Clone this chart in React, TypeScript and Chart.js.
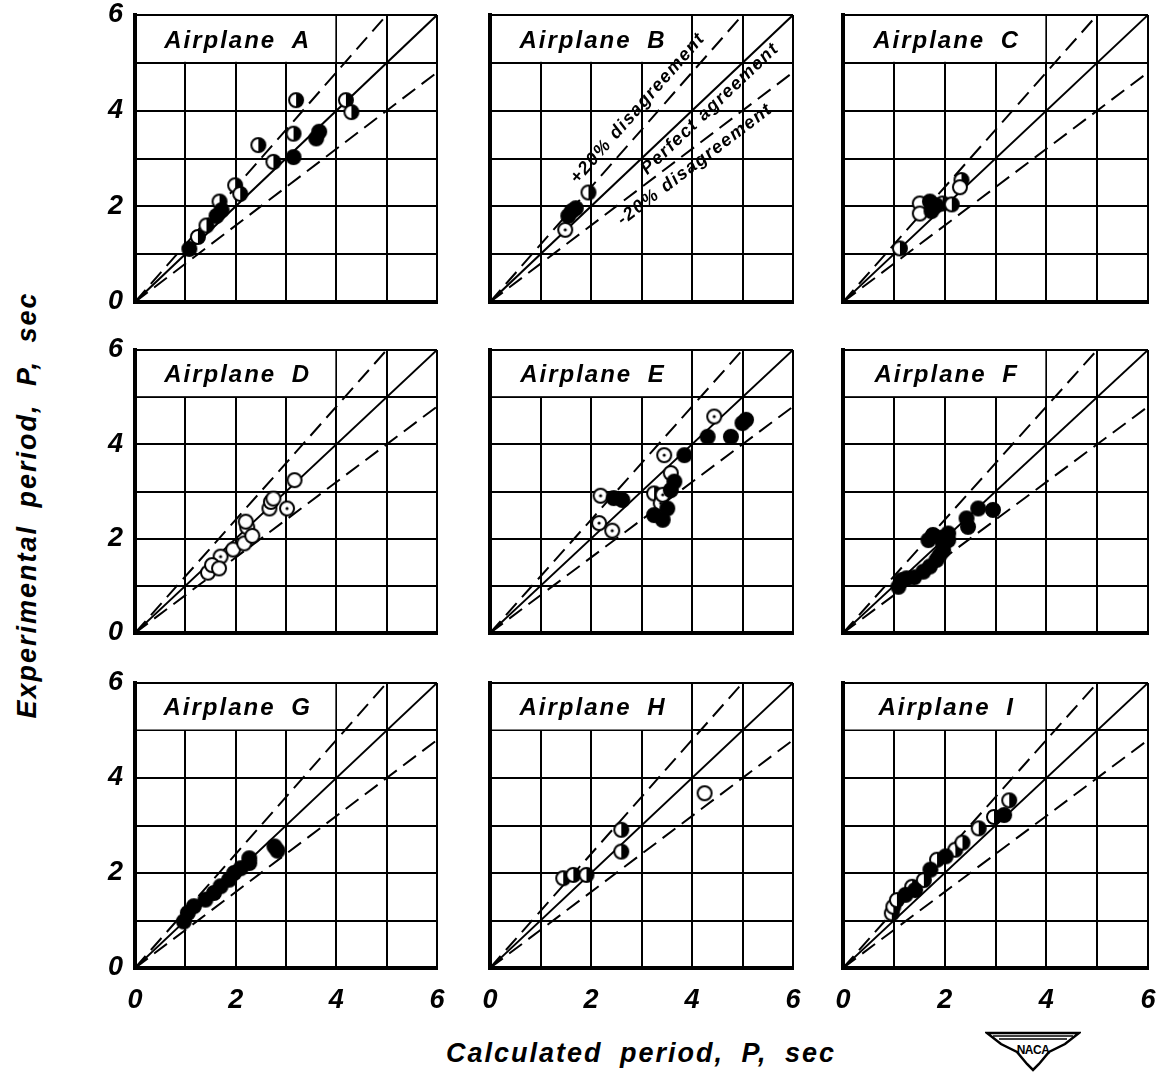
import React, { useEffect, useRef } from 'react';
import { Chart, registerables } from 'chart.js';

Chart.register(...registerables);

// ---------------- data ----------------
const panelNames = ['A', 'B', 'C', 'D', 'E', 'F', 'G', 'H', 'I'];
const tickValues = [0, 1, 2, 3, 4, 5, 6];
const tickLabels = ['0', '', '2', '', '4', '', '6'];

// reference lines (calculated, experimental)
const perfectLine = [[0, 0], [6, 6]];
const plus20Line = [[0, 0], [5, 6]];
const minus20Line = [[0, 0], [6, 4.8]];

// points: [calculated, experimental, symbol]  O open, D open with dot, R right half filled, L left half filled, F filled
const airplaneA = [
  [1.08, 1.11, 'F'], [1.25, 1.36, 'R'], [1.42, 1.6, 'R'], [1.62, 1.8, 'F'], [1.72, 1.92, 'F'],
  [1.68, 2.1, 'R'], [1.99, 2.44, 'R'], [2.09, 2.26, 'R'], [2.45, 3.28, 'R'], [2.75, 2.93, 'R'],
  [3.15, 3.03, 'F'], [3.15, 3.52, 'R'], [3.2, 4.22, 'R'], [3.6, 3.42, 'F'], [3.66, 3.56, 'F'],
  [4.19, 4.22, 'R'], [4.3, 3.97, 'R'],
];
const airplaneB = [
  [1.49, 1.51, 'D'], [1.55, 1.8, 'F'], [1.62, 1.9, 'F'], [1.7, 1.96, 'F'], [1.95, 2.29, 'R'],
];
const airplaneC = [
  [1.12, 1.12, 'R'], [1.51, 2.06, 'O'], [1.51, 1.85, 'O'], [1.71, 2.1, 'F'], [1.74, 1.9, 'F'],
  [1.84, 2.02, 'F'], [1.96, 2.06, 'R'], [2.14, 2.04, 'R'], [2.33, 2.55, 'R'], [2.3, 2.4, 'O'],
];
const airplaneD = [
  [1.45, 1.28, 'O'], [1.53, 1.44, 'O'], [1.67, 1.37, 'O'], [1.7, 1.62, 'D'], [1.95, 1.77, 'O'],
  [2.17, 1.9, 'O'], [2.23, 2.24, 'D'], [2.2, 2.36, 'O'], [2.33, 2.06, 'O'], [2.67, 2.64, 'O'],
  [2.7, 2.78, 'O'], [2.75, 2.85, 'O'], [3.02, 2.64, 'D'], [3.17, 3.24, 'O'],
];
const airplaneE = [
  [2.19, 2.91, 'D'], [2.45, 2.86, 'F'], [2.62, 2.82, 'F'], [2.16, 2.33, 'D'], [2.42, 2.17, 'D'],
  [3.25, 2.5, 'F'], [3.42, 2.4, 'F'], [3.51, 2.64, 'F'], [3.38, 2.75, 'D'], [3.25, 2.96, 'R'],
  [3.42, 2.93, 'D'], [3.58, 3.03, 'F'], [3.65, 3.21, 'F'], [3.58, 3.39, 'O'], [3.45, 3.77, 'D'],
  [3.85, 3.77, 'F'], [4.31, 4.16, 'F'], [4.44, 4.59, 'D'], [4.77, 4.16, 'F'], [5.0, 4.45, 'F'],
  [5.07, 4.52, 'F'],
];
const airplaneF = [
  [1.09, 0.98, 'F'], [1.15, 1.12, 'F'], [1.25, 1.16, 'F'], [1.4, 1.18, 'F'], [1.58, 1.3, 'F'],
  [1.71, 1.41, 'F'], [1.84, 1.55, 'F'], [1.9, 1.65, 'F'], [1.97, 1.75, 'F'], [1.68, 1.97, 'F'],
  [1.77, 2.08, 'F'], [1.92, 2.02, 'F'], [2.07, 2.11, 'F'], [2.07, 1.97, 'F'], [1.97, 1.88, 'F'],
  [2.46, 2.25, 'F'], [2.43, 2.43, 'F'], [2.66, 2.64, 'F'], [2.95, 2.61, 'F'],
];
const airplaneG = [
  [0.97, 0.98, 'F'], [1.05, 1.16, 'F'], [1.17, 1.3, 'F'], [1.4, 1.44, 'F'], [1.57, 1.58, 'F'],
  [1.7, 1.72, 'F'], [1.87, 1.86, 'F'], [1.97, 2.0, 'F'], [2.1, 2.1, 'F'], [2.27, 2.21, 'F'],
  [2.27, 2.31, 'F'], [2.77, 2.56, 'F'], [2.83, 2.47, 'F'],
];
const airplaneH = [
  [1.45, 1.89, 'R'], [1.65, 1.96, 'R'], [1.91, 1.96, 'R'], [2.6, 2.91, 'R'], [2.6, 2.45, 'R'],
  [4.25, 3.68, 'O'],
];
const airplaneI = [
  [0.96, 1.15, 'R'], [0.99, 1.29, 'R'], [1.06, 1.43, 'R'], [1.23, 1.54, 'F'], [1.36, 1.71, 'R'],
  [1.42, 1.64, 'F'], [1.59, 1.85, 'R'], [1.72, 2.07, 'F'], [1.85, 2.28, 'R'], [2.02, 2.35, 'F'],
  [2.21, 2.49, 'R'], [2.35, 2.64, 'R'], [2.67, 2.94, 'R'], [2.97, 3.18, 'R'], [3.17, 3.22, 'F'],
  [3.27, 3.53, 'R'],
];
const panelData = [airplaneA, airplaneB, airplaneC, airplaneD, airplaneE, airplaneF, airplaneG, airplaneH, airplaneI];

const bAnnotations = [
  { text: '+20% disagreement', x: 2.93, y: 4.05, slope: 1.2 },
  { text: 'Perfect agreement', x: 4.36, y: 4.04, slope: 1.0 },
  { text: '-20% disagreement', x: 4.06, y: 2.875, slope: 0.8 },
];

// ---------------- layout ----------------
const colLeft = [135, 490, 843];
const colRight = [437, 793, 1148];
const rowTop = [15, 350, 683];
const rowBottom = [302, 633, 968];
const PAD_L = 60, PAD_T = 14, PAD_R = 14, PAD_B = 50;
const FONT = '"Liberation Sans", Arial, sans-serif';
const symbolCodes = ['O', 'D', 'R', 'L', 'F'];

function makeMarker(code: string): HTMLCanvasElement {
  const s = 18, c = 9, r = 7;
  const cv = document.createElement('canvas');
  cv.width = s; cv.height = s;
  const g = cv.getContext('2d')!;
  g.beginPath(); g.arc(c, c, r, 0, Math.PI * 2);
  g.fillStyle = code === 'F' ? '#000' : '#fff';
  g.fill();
  if (code === 'R' || code === 'L') {
    g.beginPath();
    if (code === 'R') g.arc(c, c, r, -Math.PI / 2, Math.PI / 2);
    else g.arc(c, c, r, Math.PI / 2, Math.PI * 1.5);
    g.closePath();
    g.fillStyle = '#000';
    g.fill();
  }
  if (code === 'D') {
    g.beginPath(); g.arc(c, c, 1.6, 0, Math.PI * 2); g.fillStyle = '#000'; g.fill();
  }
  g.beginPath(); g.arc(c, c, r, 0, Math.PI * 2);
  g.lineWidth = 2; g.strokeStyle = '#000'; g.stroke();
  return cv;
}

function Panel({ idx }: { idx: number }) {
  const ref = useRef<HTMLCanvasElement | null>(null);
  const col = idx % 3, row = Math.floor(idx / 3);
  const w = colRight[col] - colLeft[col] + PAD_L + PAD_R;
  const h = rowBottom[row] - rowTop[row] + PAD_T + PAD_B;

  useEffect(() => {
    const canvas = ref.current!;
    const markers: Record<string, HTMLCanvasElement> = {};
    symbolCodes.forEach((c) => (markers[c] = makeMarker(c)));
    const data = panelData[idx];
    const datasets: any[] = [];
    symbolCodes.forEach((code) => {
      const pts = data.filter((p) => p[2] === code).map((p) => ({ x: p[0] as number, y: p[1] as number }));
      if (pts.length) {
        datasets.push({
          type: 'scatter', data: pts, pointStyle: markers[code], pointRadius: 7,
          showLine: false, order: code === 'F' ? 0 : 1,
        });
      }
    });
    const lineDs = (pts: number[][], dash: number[]) => ({
      type: 'line', data: pts.map((p) => ({ x: p[0], y: p[1] })), borderColor: '#000',
      borderWidth: 2, borderDash: dash, pointRadius: 0, fill: false, tension: 0, order: 5,
    });
    datasets.push(lineDs(perfectLine, []));
    datasets.push(lineDs(plus20Line, [16, 8]));
    datasets.push(lineDs(minus20Line, [16, 8]));

    const tickFont = { family: FONT, style: 'italic' as const, size: 27, weight: 'bold' as const };
    const label = (v: any) => {
      const i = tickValues.indexOf(Number(v));
      return i >= 0 ? tickLabels[i] : '';
    };
    const zeroPad = (s: any) => {
      s.paddingLeft = 0; s.paddingRight = 0; s.paddingTop = 0; s.paddingBottom = 0;
    };

    const boxPlugin = {
      id: 'box' + idx,
      beforeDatasetsDraw(chart: any) {
        const { ctx, scales } = chart;
        const xs = scales.x, ys = scales.y;
        const x0 = xs.getPixelForValue(0), x4 = xs.getPixelForValue(4);
        const y6 = ys.getPixelForValue(6), y5 = ys.getPixelForValue(5);
        ctx.save();
        ctx.fillStyle = '#fff';
        ctx.fillRect(x0 + 2, y6 + 1, x4 - x0 - 3, y5 - y6 - 2);
        ctx.fillStyle = '#000';
        ctx.font = `italic bold 24px ${FONT}`;
        (ctx as any).letterSpacing = '2px';
        (ctx as any).wordSpacing = '7px';
        ctx.textAlign = 'center';
        ctx.textBaseline = 'middle';
        ctx.fillText('Airplane ' + panelNames[idx], (x0 + x4) / 2 + 2, (y6 + y5) / 2 + 2);
        ctx.restore();
      },
      afterDatasetsDraw(chart: any) {
        if (idx !== 1) return;
        const { ctx, scales } = chart;
        const xs = scales.x, ys = scales.y;
        ctx.save();
        ctx.fillStyle = '#000';
        ctx.font = `italic bold 18px ${FONT}`;
        (ctx as any).letterSpacing = '1.5px';
        ctx.textAlign = 'center';
        ctx.textBaseline = 'middle';
        bAnnotations.forEach((a) => {
          const px = xs.getPixelForValue(a.x), py = ys.getPixelForValue(a.y);
          const dx = xs.getPixelForValue(1) - xs.getPixelForValue(0);
          const dy = ys.getPixelForValue(a.slope) - ys.getPixelForValue(0);
          const ang = Math.atan2(dy, dx);
          ctx.save();
          ctx.translate(px, py);
          ctx.rotate(ang);
          ctx.fillText(a.text, 0, 0);
          ctx.restore();
        });
        ctx.restore();
      },
    };

    const chart = new Chart(canvas, {
      type: 'scatter',
      data: { datasets },
      options: {
        responsive: false,
        animation: false,
        devicePixelRatio: 1,
        events: [],
        layout: { padding: { left: 0, top: PAD_T, right: PAD_R, bottom: 0 }, autoPadding: false },
        plugins: { legend: { display: false }, tooltip: { enabled: false } },
        scales: {
          x: {
            type: 'linear', min: 0, max: 6,
            afterFit: (s: any) => { s.height = PAD_B; zeroPad(s); },
            afterBuildTicks: (s: any) => { s.ticks = tickValues.map((v) => ({ value: v })); },
            ticks: {
              display: row === 2, callback: label, font: tickFont, color: '#000',
              padding: 16, maxRotation: 0, autoSkip: false,
            },
            grid: { color: '#000', lineWidth: 2, drawTicks: false },
            border: { color: '#000', width: 4 },
          },
          y: {
            type: 'linear', min: 0, max: 6,
            afterFit: (s: any) => { s.width = PAD_L; zeroPad(s); },
            afterBuildTicks: (s: any) => { s.ticks = tickValues.map((v) => ({ value: v })); },
            ticks: {
              display: col === 0, callback: label, font: tickFont, color: '#000',
              padding: 12, autoSkip: false,
            },
            grid: { color: '#000', lineWidth: 2, drawTicks: false },
            border: { color: '#000', width: 4 },
          },
        },
      } as any,
      plugins: [boxPlugin],
    });
    return () => chart.destroy();
  }, [idx]);

  return (
    <canvas
      ref={ref}
      width={w}
      height={h}
      style={{ position: 'absolute', left: colLeft[col] - PAD_L, top: rowTop[row] - PAD_T, width: w, height: h }}
    />
  );
}

function NacaLogo() {
  return (
    <svg width={96} height={42} viewBox="0 0 96 42" style={{ position: 'absolute', left: 985, top: 1030 }}>
      <path d="M2,3 L94,3 L80,14 L64,22 L54,34 L48,40 L42,34 L32,22 L16,14 Z" fill="#fff" stroke="#000" strokeWidth={2.5} />
      <path d="M8,6 L88,6 M14,9 L82,9" stroke="#000" strokeWidth={1.5} />
      <text x={48} y={24} textAnchor="middle" fontFamily={FONT} fontWeight="bold" fontSize={12} letterSpacing={-0.5}>NACA</text>
    </svg>
  );
}

export default function App() {
  const titleStyle: React.CSSProperties = {
    position: 'absolute', whiteSpace: 'pre', font: `italic bold 27px ${FONT}`, letterSpacing: '2px',
    wordSpacing: '8px', color: '#000', lineHeight: '32px',
  };
  return (
    <div style={{ position: 'absolute', left: 0, top: 0, width: 1157, height: 1080, background: '#fff', overflow: 'hidden' }}>
      {panelNames.map((_, i) => <Panel key={i} idx={i} />)}
      <div style={{ ...titleStyle, left: 27, top: 505, transform: 'translate(-50%, -50%) rotate(-90deg)' }}>
        Experimental period, P, sec
      </div>
      <div style={{ ...titleStyle, left: 641, top: 1053, transform: 'translate(-50%, -50%)' }}>
        Calculated period, P, sec
      </div>
      <NacaLogo />
    </div>
  );
}
